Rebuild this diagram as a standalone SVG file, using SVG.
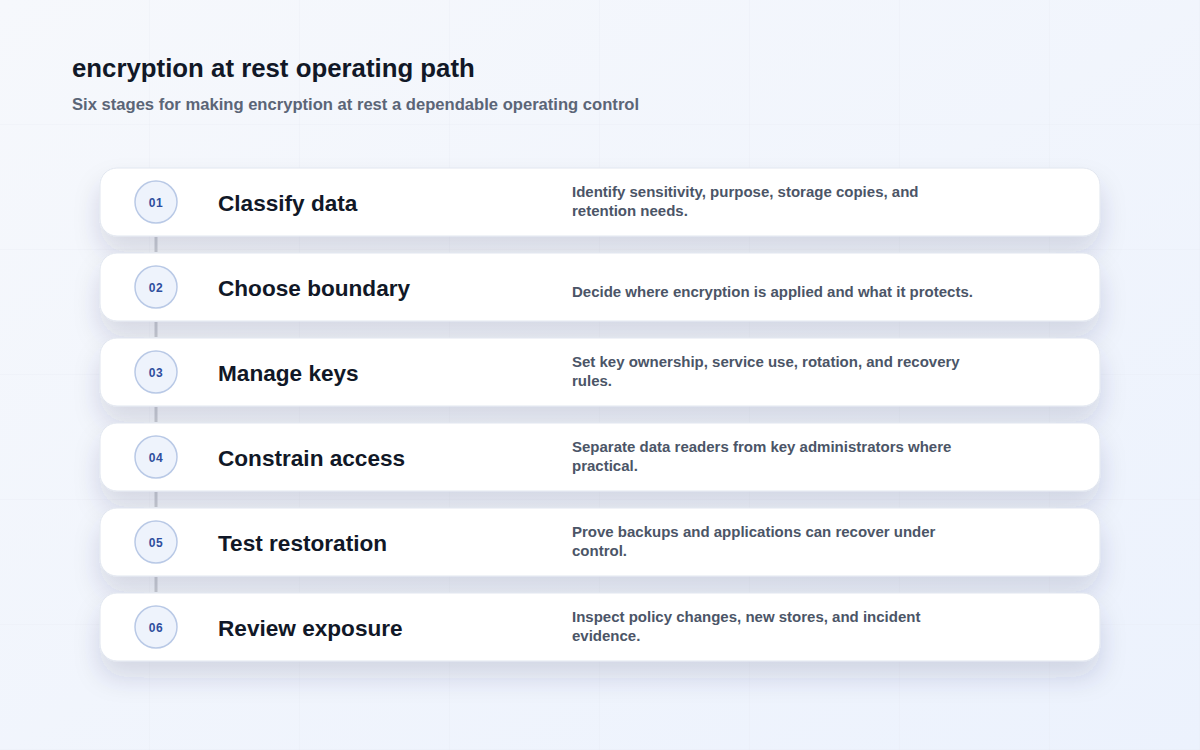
<svg xmlns="http://www.w3.org/2000/svg" width="1200" height="750" viewBox="0 0 1200 750">
  <defs>
    <linearGradient id="bg" x1="0" y1="0" x2="1" y2="1">
      <stop offset="0" stop-color="#f6f8fc"/>
      <stop offset="1" stop-color="#ecf2fd"/>
    </linearGradient>
    <pattern id="grid" width="150" height="125" patternUnits="userSpaceOnUse">
      <path d="M150 0V125M0 125H150" fill="none" stroke="#e3e8f1" stroke-width="1" opacity="0.55"/>
    </pattern>
    <filter id="shadow" x="-10%" y="-50%" width="120%" height="220%">
      <feDropShadow dx="0" dy="16" stdDeviation="13" flood-color="#24305a" flood-opacity="0.15"/>
    </filter>
  </defs>
  <style>
    .card { fill: #ffffff; stroke: #e1e6ef; stroke-width: 1; }
    .badge { fill: #eef3fc; stroke: #b9c9e6; stroke-width: 1.5; }
    .num { font-family: "Liberation Sans", Arial, sans-serif; font-weight: 700; font-size: 12px; fill: #2f4e9e; text-anchor: middle; letter-spacing: 0.5px; }
    .title { font-family: "Liberation Sans", Arial, sans-serif; font-weight: 700; font-size: 22.6px; fill: #111827; }
    .desc { font-family: "Liberation Sans", Arial, sans-serif; font-weight: 700; font-size: 15px; fill: #4b5567; }
    .link { stroke: #c8ccd5; stroke-width: 3; }
  </style>
  <rect width="1200" height="750" fill="url(#bg)"/>
  <rect width="1200" height="750" fill="url(#grid)"/>

  <text x="72" y="77" font-family="'Liberation Sans', Arial, sans-serif" font-weight="700" font-size="25.8" fill="#111827">encryption at rest operating path</text>
  <text x="72" y="110" font-family="'Liberation Sans', Arial, sans-serif" font-weight="700" font-size="16.6" fill="#5b6577">Six stages for making encryption at rest a dependable operating control</text>

  <g id="connectors">
    <line class="link" x1="156" y1="237" x2="156" y2="252"/>
    <line class="link" x1="156" y1="322" x2="156" y2="337"/>
    <line class="link" x1="156" y1="407" x2="156" y2="422"/>
    <line class="link" x1="156" y1="492" x2="156" y2="507"/>
    <line class="link" x1="156" y1="577" x2="156" y2="592"/>
  </g>

  <g id="stage-01">
    <rect class="card" x="100" y="168" width="1000" height="68" rx="17" filter="url(#shadow)"/>
    <circle class="badge" cx="156" cy="202" r="21"/>
    <text class="num" x="156" y="206.5">01</text>
    <text class="title" x="218" y="211">Classify data</text>
    <text class="desc" x="572" y="196.5">Identify sensitivity, purpose, storage copies, and</text>
    <text class="desc" x="572" y="216">retention needs.</text>
  </g>

  <g id="stage-02">
    <rect class="card" x="100" y="253" width="1000" height="68" rx="17" filter="url(#shadow)"/>
    <circle class="badge" cx="156" cy="287" r="21"/>
    <text class="num" x="156" y="291.5">02</text>
    <text class="title" x="218" y="296">Choose boundary</text>
    <text class="desc" x="572" y="297">Decide where encryption is applied and what it protects.</text>
  </g>

  <g id="stage-03">
    <rect class="card" x="100" y="338" width="1000" height="68" rx="17" filter="url(#shadow)"/>
    <circle class="badge" cx="156" cy="372" r="21"/>
    <text class="num" x="156" y="376.5">03</text>
    <text class="title" x="218" y="381">Manage keys</text>
    <text class="desc" x="572" y="366.5">Set key ownership, service use, rotation, and recovery</text>
    <text class="desc" x="572" y="386">rules.</text>
  </g>

  <g id="stage-04">
    <rect class="card" x="100" y="423" width="1000" height="68" rx="17" filter="url(#shadow)"/>
    <circle class="badge" cx="156" cy="457" r="21"/>
    <text class="num" x="156" y="461.5">04</text>
    <text class="title" x="218" y="466">Constrain access</text>
    <text class="desc" x="572" y="451.5">Separate data readers from key administrators where</text>
    <text class="desc" x="572" y="471">practical.</text>
  </g>

  <g id="stage-05">
    <rect class="card" x="100" y="508" width="1000" height="68" rx="17" filter="url(#shadow)"/>
    <circle class="badge" cx="156" cy="542" r="21"/>
    <text class="num" x="156" y="546.5">05</text>
    <text class="title" x="218" y="551">Test restoration</text>
    <text class="desc" x="572" y="536.5">Prove backups and applications can recover under</text>
    <text class="desc" x="572" y="556">control.</text>
  </g>

  <g id="stage-06">
    <rect class="card" x="100" y="593" width="1000" height="68" rx="17" filter="url(#shadow)"/>
    <circle class="badge" cx="156" cy="627" r="21"/>
    <text class="num" x="156" y="631.5">06</text>
    <text class="title" x="218" y="636">Review exposure</text>
    <text class="desc" x="572" y="621.5">Inspect policy changes, new stores, and incident</text>
    <text class="desc" x="572" y="641">evidence.</text>
  </g>
</svg>
